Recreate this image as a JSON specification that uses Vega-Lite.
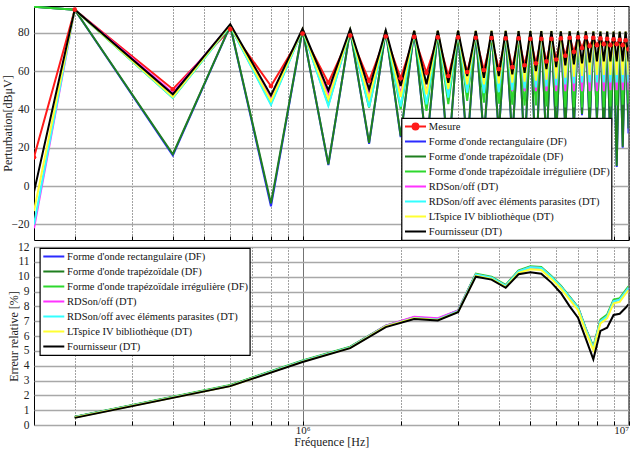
{
 "$schema": "https://vega.github.io/schema/vega-lite/v6.json",
 "padding": {"left": 0, "top": 5, "right": 0, "bottom": 0},
 "background": "white",
 "bounds": "flush",
 "spacing": 7,
 "config": {
  "font": "Liberation Serif",
  "view": {"stroke": "black", "strokeWidth": 1},
  "axis": {"labelFont": "Liberation Serif", "labelFontSize": 11.5, "labelColor": "#222", "titleFont": "Liberation Serif", "titleFontSize": 12.5, "titleFontWeight": "normal", "titleColor": "#222", "domain": false, "tickColor": "#000", "tickSize": 0, "gridOpacity": 1},
  "legend": {"labelFont": "Liberation Serif", "labelFontSize": 10.5, "labelColor": "#111", "labelLimit": 400, "symbolType": "stroke", "symbolSize": 121, "symbolStrokeWidth": 2, "fillColor": "white", "strokeColor": "black", "padding": 1, "rowPadding": 0, "clipHeight": 15, "labelOffset": 3.3, "cornerRadius": 0, "strokeWidth": 1.2}
 },
 "datasets": {
  "names": [
   {"k": "M", "name": "Mesure"},
   {"k": "R", "name": "Forme d'onde rectangulaire (DF)"},
   {"k": "T", "name": "Forme d'onde trapézoïdale (DF)"},
   {"k": "I", "name": "Forme d'onde trapézoïdale irrégulière (DF)"},
   {"k": "D", "name": "RDSon/off (DT)"},
   {"k": "P", "name": "RDSon/off avec éléments parasites (DT)"},
   {"k": "L", "name": "LTspice IV bibliothèque (DT)"},
   {"k": "F", "name": "Fournisseur (DT)"}
  ],
  "top": [
   {"f": 150000, "M": 15, "R": 93.5, "T": 93.5, "I": 93.5, "D": -22, "P": -20, "L": -13, "F": -3},
   {"f": 200000, "M": 92, "R": 92, "T": 92, "I": 92, "D": 92, "P": 92, "L": 92, "F": 92},
   {"f": 400000, "M": 50.5, "R": 16, "T": 16.6, "I": 46, "D": 48.7, "P": 46.1, "L": 46.5, "F": 47.9},
   {"f": 600000, "M": 81.8, "R": 83.5, "T": 83.5, "I": 83.5, "D": 84, "P": 83.5, "L": 84, "F": 84.4},
   {"f": 800000, "M": 52.2, "R": -10.5, "T": -9, "I": 43, "D": 45.5, "P": 42.3, "L": 44.4, "F": 47.3},
   {"f": 1000000, "M": 79.5, "R": 81.5, "T": 81.5, "I": 81.5, "D": 81.8, "P": 81.5, "L": 81.8, "F": 82},
   {"f": 1200000, "M": 53.9, "R": 11, "T": 11.3, "I": 42.5, "D": 47.9, "P": 41.8, "L": 45.3, "F": 49.9},
   {"f": 1400000, "M": 78.5, "R": 81.3, "T": 81.3, "I": 81.3, "D": 81.5, "P": 81.3, "L": 81.5, "F": 81.8},
   {"f": 1600000, "M": 54.8, "R": 22, "T": 22.6, "I": 41, "D": 47.5, "P": 41.2, "L": 45.5, "F": 50.5},
   {"f": 1800000, "M": 78, "R": 81, "T": 81, "I": 81, "D": 81, "P": 81, "L": 81.2, "F": 81.2},
   {"f": 2000000, "M": 56.2, "R": 25.5, "T": 26, "I": 40, "D": 48, "P": 41.5, "L": 46.5, "F": 52.2},
   {"f": 2200000, "M": 77.8, "R": 80.8, "T": 80.8, "I": 80.8, "D": 80.8, "P": 80.8, "L": 81, "F": 81},
   {"f": 2400000, "M": 59.1, "R": 19.5, "T": 20, "I": 39.2, "D": 48.5, "P": 42.6, "L": 47.9, "F": 53.1},
   {"f": 2600000, "M": 77.5, "R": 80.8, "T": 80.8, "I": 80.8, "D": 80.8, "P": 80.8, "L": 81, "F": 81},
   {"f": 2800000, "M": 57.4, "R": 13.5, "T": 14, "I": 42.8, "D": 49, "P": 46.1, "L": 50.6, "F": 53.9},
   {"f": 3000000, "M": 77.5, "R": 80.8, "T": 80.8, "I": 80.8, "D": 80.8, "P": 80.8, "L": 81, "F": 81},
   {"f": 3200000, "M": 59.5, "R": 19.5, "T": 20, "I": 44.4, "D": 49.5, "P": 48.7, "L": 53, "F": 57.4},
   {"f": 3400000, "M": 77.3, "R": 80.7, "T": 80.7, "I": 80.7, "D": 80.7, "P": 80.7, "L": 81, "F": 80.9},
   {"f": 3600000, "M": 60.5, "R": 24.5, "T": 25, "I": 43.5, "D": 49.5, "P": 48.5, "L": 53, "F": 56.5},
   {"f": 3800000, "M": 77.2, "R": 80.7, "T": 80.7, "I": 80.7, "D": 80.7, "P": 80.7, "L": 81, "F": 80.9},
   {"f": 4000000, "M": 61, "R": 27.5, "T": 28, "I": 43, "D": 49.5, "P": 49, "L": 53.5, "F": 57.4},
   {"f": 4200000, "M": 77, "R": 80.7, "T": 80.7, "I": 80.7, "D": 80.7, "P": 80.7, "L": 81, "F": 80.9},
   {"f": 4400000, "M": 62, "R": 23.5, "T": 24, "I": 42.5, "D": 49.5, "P": 50, "L": 54, "F": 58.3},
   {"f": 4600000, "M": 77, "R": 80.6, "T": 80.6, "I": 80.6, "D": 80.6, "P": 80.6, "L": 80.9, "F": 80.8},
   {"f": 4800000, "M": 63, "R": 17.5, "T": 18, "I": 42, "D": 49.5, "P": 51, "L": 54.5, "F": 59.1},
   {"f": 5000000, "M": 76.8, "R": 80.6, "T": 80.6, "I": 80.6, "D": 80.6, "P": 80.6, "L": 80.9, "F": 80.8},
   {"f": 5200000, "M": 64, "R": 9.5, "T": 10, "I": 42, "D": 49.5, "P": 51.5, "L": 55, "F": 60},
   {"f": 5400000, "M": 76.8, "R": 80.6, "T": 80.6, "I": 80.6, "D": 80.6, "P": 80.6, "L": 80.9, "F": 80.8},
   {"f": 5600000, "M": 65, "R": 19.5, "T": 20, "I": 41.5, "D": 49.5, "P": 52, "L": 55.5, "F": 61},
   {"f": 5800000, "M": 76.8, "R": 80.6, "T": 80.6, "I": 80.6, "D": 80.6, "P": 80.6, "L": 80.9, "F": 80.8},
   {"f": 6000000, "M": 66, "R": 25.5, "T": 26, "I": 41.5, "D": 49.5, "P": 52.5, "L": 56, "F": 62},
   {"f": 6200000, "M": 77, "R": 80.5, "T": 80.5, "I": 80.5, "D": 80.5, "P": 80.5, "L": 80.8, "F": 80.7},
   {"f": 6400000, "M": 68, "R": 29, "T": 29.5, "I": 41, "D": 49.5, "P": 53, "L": 56.5, "F": 63},
   {"f": 6600000, "M": 77.3, "R": 80.5, "T": 80.5, "I": 80.5, "D": 80.5, "P": 80.5, "L": 80.8, "F": 80.7},
   {"f": 6800000, "M": 70, "R": 31, "T": 31.5, "I": 41, "D": 49.5, "P": 53.5, "L": 57, "F": 63.5},
   {"f": 7000000, "M": 77.5, "R": 80.5, "T": 80.5, "I": 80.5, "D": 80.5, "P": 80.5, "L": 80.8, "F": 80.7},
   {"f": 7200000, "M": 72, "R": 37, "T": 37.6, "I": 41, "D": 49.5, "P": 54, "L": 57.5, "F": 64},
   {"f": 7400000, "M": 77.5, "R": 80.5, "T": 80.5, "I": 80.5, "D": 80.5, "P": 80.5, "L": 80.8, "F": 80.7},
   {"f": 7600000, "M": 73, "R": 30, "T": 30.5, "I": 41, "D": 49.5, "P": 54, "L": 58, "F": 64.5},
   {"f": 7800000, "M": 77.3, "R": 80.4, "T": 80.4, "I": 80.4, "D": 80.4, "P": 80.4, "L": 80.7, "F": 80.6},
   {"f": 8000000, "M": 73.5, "R": 34.5, "T": 35, "I": 41, "D": 49.5, "P": 54, "L": 58, "F": 65},
   {"f": 8200000, "M": 77, "R": 80.4, "T": 80.4, "I": 80.4, "D": 80.4, "P": 80.4, "L": 80.7, "F": 80.6},
   {"f": 8400000, "M": 74, "R": 25, "T": 25.5, "I": 41, "D": 49.5, "P": 54, "L": 58, "F": 65},
   {"f": 8600000, "M": 76.8, "R": 80.4, "T": 80.4, "I": 80.4, "D": 80.4, "P": 80.4, "L": 80.7, "F": 80.6},
   {"f": 8800000, "M": 73.5, "R": 18, "T": 18.5, "I": 41.5, "D": 50, "P": 54, "L": 58, "F": 65},
   {"f": 9000000, "M": 76.5, "R": 80.3, "T": 80.3, "I": 80.3, "D": 80.3, "P": 80.3, "L": 80.6, "F": 80.5},
   {"f": 9200000, "M": 74, "R": 10, "T": 10.5, "I": 42, "D": 50, "P": 54, "L": 58, "F": 65},
   {"f": 9400000, "M": 76.3, "R": 80.3, "T": 80.3, "I": 80.3, "D": 80.3, "P": 80.3, "L": 80.6, "F": 80.5},
   {"f": 9600000, "M": 73.5, "R": 20, "T": 20.5, "I": 42.5, "D": 50, "P": 54, "L": 58, "F": 65},
   {"f": 9800000, "M": 76, "R": 80.3, "T": 80.3, "I": 80.3, "D": 80.3, "P": 80.3, "L": 80.6, "F": 80.5},
   {"f": 10000000, "M": 71.3, "R": 27.5, "T": 30, "I": 43, "D": 50, "P": 54, "L": 58, "F": 65}
  ],
  "bot": [
   {"f": 200000, "R": 0.54, "T": 0.54, "I": 0.56, "D": 0.52, "P": 0.52, "L": 0.5, "F": 0.48},
   {"f": 600000, "R": 2.67, "T": 2.67, "I": 2.7, "D": 2.65, "P": 2.65, "L": 2.63, "F": 2.62},
   {"f": 1000000, "R": 4.32, "T": 4.32, "I": 4.35, "D": 4.3, "P": 4.3, "L": 4.27, "F": 4.25},
   {"f": 1400000, "R": 5.25, "T": 5.25, "I": 5.28, "D": 5.23, "P": 5.23, "L": 5.2, "F": 5.18},
   {"f": 1800000, "R": 6.68, "T": 6.68, "I": 6.7, "D": 6.7, "P": 6.66, "L": 6.64, "F": 6.6},
   {"f": 2200000, "R": 7.24, "T": 7.24, "I": 7.26, "D": 7.3, "P": 7.22, "L": 7.19, "F": 7.15},
   {"f": 2600000, "R": 7.13, "T": 7.13, "I": 7.15, "D": 7.2, "P": 7.11, "L": 7.08, "F": 7.05},
   {"f": 3000000, "R": 7.69, "T": 7.69, "I": 7.72, "D": 7.72, "P": 7.67, "L": 7.63, "F": 7.6},
   {"f": 3400000, "R": 10.16, "T": 10.16, "I": 10.2, "D": 10.14, "P": 10.14, "L": 10.06, "F": 10.0},
   {"f": 3800000, "R": 9.95, "T": 9.95, "I": 10.0, "D": 9.93, "P": 9.93, "L": 9.85, "F": 9.8},
   {"f": 4200000, "R": 9.4, "T": 9.4, "I": 9.45, "D": 9.38, "P": 9.38, "L": 9.3, "F": 9.25},
   {"f": 4600000, "R": 10.38, "T": 10.38, "I": 10.43, "D": 10.36, "P": 10.36, "L": 10.25, "F": 10.16},
   {"f": 5000000, "R": 10.65, "T": 10.65, "I": 10.7, "D": 10.63, "P": 10.63, "L": 10.5, "F": 10.3},
   {"f": 5400000, "R": 10.6, "T": 10.6, "I": 10.65, "D": 10.58, "P": 10.58, "L": 10.45, "F": 10.2},
   {"f": 5800000, "R": 10.0, "T": 10.0, "I": 10.05, "D": 9.98, "P": 9.98, "L": 9.85, "F": 9.6},
   {"f": 6200000, "R": 9.35, "T": 9.35, "I": 9.4, "D": 9.33, "P": 9.33, "L": 9.2, "F": 8.9},
   {"f": 6600000, "R": 8.6, "T": 8.6, "I": 8.65, "D": 8.58, "P": 8.58, "L": 8.45, "F": 8.0},
   {"f": 7000000, "R": 7.91, "T": 7.91, "I": 7.96, "D": 7.89, "P": 7.89, "L": 7.75, "F": 7.24},
   {"f": 7400000, "R": 6.45, "T": 6.45, "I": 6.5, "D": 6.43, "P": 6.43, "L": 6.3, "F": 5.8},
   {"f": 7800000, "R": 5.21, "T": 5.21, "I": 5.3, "D": 5.19, "P": 5.19, "L": 5.05, "F": 4.43},
   {"f": 8200000, "R": 7.01, "T": 7.01, "I": 7.1, "D": 6.99, "P": 6.99, "L": 6.85, "F": 6.34},
   {"f": 8600000, "R": 7.35, "T": 7.35, "I": 7.45, "D": 7.33, "P": 7.33, "L": 7.2, "F": 6.56},
   {"f": 9000000, "R": 8.36, "T": 8.36, "I": 8.45, "D": 8.34, "P": 8.34, "L": 8.2, "F": 7.42},
   {"f": 9400000, "R": 8.47, "T": 8.47, "I": 8.55, "D": 8.45, "P": 8.45, "L": 8.3, "F": 7.5},
   {"f": 9800000, "R": 9.0, "T": 9.0, "I": 9.1, "D": 8.98, "P": 8.98, "L": 8.85, "F": 7.9},
   {"f": 10000000, "R": 9.26, "T": 9.26, "I": 9.35, "D": 9.24, "P": 9.24, "L": 9.1, "F": 8.14}
  ]
 },
 "resolve": {"scale": {"color": "independent"}, "legend": {"color": "independent"}},
 "vconcat": [
  {
   "width": 594.5,
   "height": 234,
   "data": {"name": "top"},
   "transform": [
    {"fold": ["M", "R", "T", "I", "D", "P", "L", "F"], "as": ["k", "v"]},
    {"lookup": "k", "from": {"data": {"name": "names"}, "key": "k", "fields": ["name"]}}
   ],
   "layer": [
    {
     "mark": {"type": "line", "strokeWidth": 2, "clip": true},
     "encoding": {
      "x": {"field": "f", "type": "quantitative", "scale": {"type": "log", "domain": [150000, 10000000], "nice": false},
       "axis": {"title": null, "labels": false, "values": [200000, 300000, 400000, 500000, 600000, 700000, 800000, 900000, 1000000, 2000000, 3000000, 4000000, 5000000, 6000000, 7000000, 8000000, 9000000, 10000000], "grid": true, "gridColor": "#444", "gridWidth": 1, "gridDash": {"condition": {"test": "datum.value === 1000000", "value": [1, 0]}, "value": [1, 2]}, "ticks": true, "tickSize": -4}},
      "y": {"field": "v", "type": "quantitative", "scale": {"domain": [-28.1, 93.9], "nice": false, "zero": false},
       "axis": {"title": "Perturbation[dBμV]", "titleFontSize": 12, "values": [-20, 0, 20, 40, 60, 80], "grid": true, "gridColor": "#a8a8a8", "gridWidth": 1.3, "labelPadding": 5, "titlePadding": -3}},
      "color": {"field": "name", "type": "nominal",
       "scale": {"domain": ["Mesure", "Forme d'onde rectangulaire (DF)", "Forme d'onde trapézoïdale (DF)", "Forme d'onde trapézoïdale irrégulière (DF)", "RDSon/off (DT)", "RDSon/off avec éléments parasites (DT)", "LTspice IV bibliothèque (DT)", "Fournisseur (DT)"],
        "range": ["#ff1a1a", "#2b2bff", "#1f7f1f", "#2ed82e", "#ff33ff", "#33ffff", "#ffff33", "#000000"]},
       "legend": {"title": null, "orient": "none", "legendX": 367.5, "legendY": 112,
        "encode": {"symbols": {"update": {"size": {"value": 441}, "x": {"value": 13}, "shape": {"signal": "datum.value === 'Mesure' ? 'M-1,0L1,0M0.28,0A0.28,0.28,0,1,1,-0.28,0A0.28,0.28,0,1,1,0.28,0' : 'stroke'"}, "fill": {"signal": "datum.value === 'Mesure' ? '#ff1a1a' : 'transparent'"}}}}}}
     }
    },
    {
     "transform": [{"filter": "datum.k === 'M'"}],
     "mark": {"type": "point", "filled": true, "size": 22, "color": "#ff1a1a", "opacity": 1, "clip": true},
     "encoding": {
      "x": {"field": "f", "type": "quantitative"},
      "y": {"field": "v", "type": "quantitative"}
     }
    }
   ]
  },
  {
   "width": 594.5,
   "height": 178,
   "data": {"name": "bot"},
   "transform": [
    {"fold": ["R", "T", "I", "D", "P", "L", "F"], "as": ["k", "v"]},
    {"lookup": "k", "from": {"data": {"name": "names"}, "key": "k", "fields": ["name"]}}
   ],
   "mark": {"type": "line", "strokeWidth": 2, "clip": true},
   "encoding": {
    "x": {"field": "f", "type": "quantitative", "scale": {"type": "log", "domain": [150000, 10000000], "nice": false},
     "axis": {"title": "Fréquence [Hz]", "titleFontSize": 12, "values": [200000, 300000, 400000, 500000, 600000, 700000, 800000, 900000, 1000000, 2000000, 3000000, 4000000, 5000000, 6000000, 7000000, 8000000, 9000000, 10000000], "labelExpr": "datum.value === 1000000 ? '10⁶' : (datum.value === 10000000 ? '10⁷' : '')", "labelFlush": true, "labelOverlap": false, "labelFontSize": 11, "labelPadding": 3, "titlePadding": 1, "grid": true, "gridColor": "#444", "gridWidth": 1, "gridDash": {"condition": {"test": "datum.value === 1000000", "value": [1, 0]}, "value": [1, 2]}, "ticks": true, "tickSize": -4}},
    "y": {"field": "v", "type": "quantitative", "scale": {"domain": [0, 12], "nice": false, "zero": false},
     "axis": {"title": "Erreur relative [%]", "titleFontSize": 12, "values": [0, 1, 2, 3, 4, 5, 6, 7, 8, 9, 10, 11, 12], "grid": true, "gridColor": "#a8a8a8", "gridWidth": 1.3, "labelPadding": 5, "titlePadding": -3}},
    "color": {"field": "name", "type": "nominal",
     "scale": {"domain": ["Forme d'onde rectangulaire (DF)", "Forme d'onde trapézoïdale (DF)", "Forme d'onde trapézoïdale irrégulière (DF)", "RDSon/off (DT)", "RDSon/off avec éléments parasites (DT)", "LTspice IV bibliothèque (DT)", "Fournisseur (DT)"],
      "range": ["#2b2bff", "#1f7f1f", "#2ed82e", "#ff33ff", "#33ffff", "#ffff33", "#000000"]},
     "legend": {"title": null, "orient": "none", "legendX": 5.8, "legendY": 1,
      "encode": {"symbols": {"update": {"size": {"value": 441}, "x": {"value": 13}}}}}}
   }
  }
 ]
}
